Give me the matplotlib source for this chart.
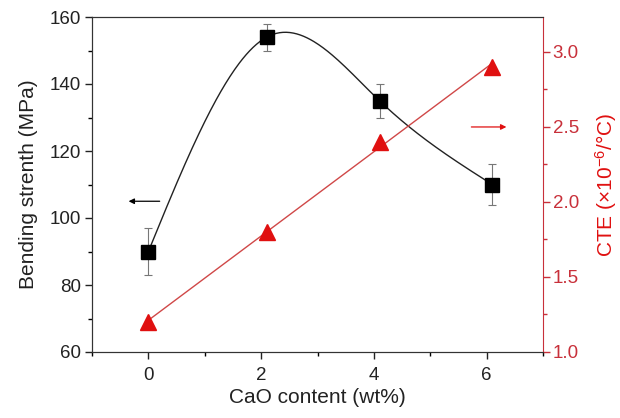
import numpy as np
import matplotlib
matplotlib.use("Agg")
import matplotlib.pyplot as plt
from matplotlib.ticker import MultipleLocator

plt.rcParams['font.family'] = ['Liberation Sans', 'DejaVu Sans']
plt.rcParams['mathtext.fontset'] = 'custom'
plt.rcParams['mathtext.rm'] = 'Liberation Sans'
plt.rcParams['mathtext.it'] = 'Liberation Sans'
plt.rcParams['mathtext.default'] = 'regular'

cao = [0, 2.1, 4.1, 6.1]
strength = [90, 154, 135, 110]
strength_err = [7, 4, 5, 6]
cte = [1.2, 1.8, 2.4, 2.9]

RED = '#e01010'
RED_AX = '#c8303a'
TXT = '#222222'
TICKFS = 13.5
LABFS = 15


def natural_spline(x, y, xs):
    x = np.asarray(x, float); y = np.asarray(y, float)
    n = len(x)
    h = np.diff(x)
    A = np.zeros((n, n)); b = np.zeros(n)
    A[0, 0] = 1; A[-1, -1] = 1
    for i in range(1, n - 1):
        A[i, i - 1] = h[i - 1]
        A[i, i] = 2 * (h[i - 1] + h[i])
        A[i, i + 1] = h[i]
        b[i] = 6 * ((y[i + 1] - y[i]) / h[i] - (y[i] - y[i - 1]) / h[i - 1])
    M = np.linalg.solve(A, b)
    out = np.empty_like(xs)
    for k, t in enumerate(xs):
        i = min(max(np.searchsorted(x, t) - 1, 0), n - 2)
        dx1 = x[i + 1] - t; dx0 = t - x[i]
        out[k] = (M[i] * dx1**3 + M[i + 1] * dx0**3) / (6 * h[i]) \
            + (y[i] / h[i] - M[i] * h[i] / 6) * dx1 \
            + (y[i + 1] / h[i] - M[i + 1] * h[i] / 6) * dx0
    return out


fig = plt.figure(figsize=(6.2, 4.18), dpi=100)
ax = fig.add_axes([92/620, 1-352/418, (543-92)/620, (352-17)/418])
ax2 = ax.twinx()

xs = np.linspace(cao[0], cao[-1], 300)
ax.plot(xs, natural_spline(cao, strength, xs), color='#222222', lw=1.0, zorder=2)
ax.errorbar(cao, strength, yerr=strength_err, fmt='none', ecolor='#777777',
            elinewidth=0.8, capsize=3, capthick=0.8, zorder=3)
ax.plot(cao, strength, 's', color='black', ms=10, zorder=4)

# red linear fit
c2 = np.polyfit(cao, cte, 1)
ax2.plot(xs, np.polyval(c2, xs), color='#d04848', lw=1.0, zorder=2)
ax2.plot(cao, cte, '^', color=RED, ms=11, zorder=4)

ax.set_xlim(-1, 7)
ax.set_ylim(60, 160)
ax2.set_ylim(1.0, 3.233)

ax.set_xticks([0, 2, 4, 6])
ax.xaxis.set_minor_locator(MultipleLocator(1))
ax.set_yticks([60, 80, 100, 120, 140, 160])
ax.yaxis.set_minor_locator(MultipleLocator(10))
ax2.set_yticks([1.0, 1.5, 2.0, 2.5, 3.0])
ax2.yaxis.set_minor_locator(MultipleLocator(0.25))
ax2.set_yticklabels(['1.0', '1.5', '2.0', '2.5', '3.0'])

ax.tick_params(axis='both', which='major', direction='out', length=5, width=1,
               labelsize=TICKFS, colors=TXT, pad=3)
ax.tick_params(axis='x', which='major', pad=6)
ax.tick_params(axis='both', which='minor', direction='out', length=3, width=1)
ax.tick_params(axis='x', top=False, which='both')
ax2.tick_params(axis='y', which='major', direction='out', length=5, width=1,
                labelsize=TICKFS, colors=RED_AX, pad=2)
ax2.tick_params(axis='y', which='minor', direction='out', length=3, width=1, colors=RED_AX)

for s in ['left', 'bottom', 'top']:
    ax.spines[s].set_color('#333333')
    ax2.spines[s].set_color('#333333')
ax2.spines['right'].set_color(RED_AX)
ax.spines['right'].set_visible(False)

ax.set_xlabel('CaO content (wt%)', fontsize=LABFS, color=TXT, labelpad=3)
ax.set_ylabel('Bending strenth (MPa)', fontsize=LABFS, color=TXT, labelpad=8)
ax2.set_ylabel('CTE (×10$^{-6}$/°C)', fontsize=LABFS, color=RED, labelpad=10)

# arrows
ax.annotate('', xy=(-0.4, 105), xytext=(0.25, 105),
            arrowprops=dict(arrowstyle='-|>', color='black', lw=0.9, mutation_scale=8))
ax2.annotate('', xy=(6.4, 2.5), xytext=(5.68, 2.5),
             arrowprops=dict(arrowstyle='-|>', color=RED, lw=0.9, mutation_scale=8))

fig.savefig('out.png', dpi=100)
